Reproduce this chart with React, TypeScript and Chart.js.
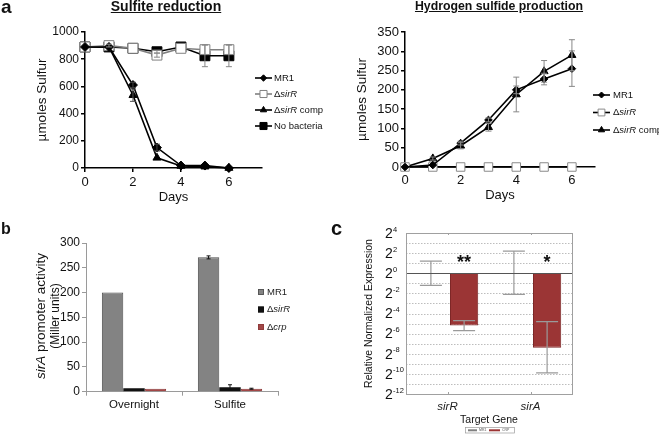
import React, { useEffect, useRef } from 'react';
import { Chart, registerables } from 'chart.js';

Chart.register(...registerables);

const FONT = "Arial, 'Liberation Sans', Helvetica, sans-serif";

// ---------- Panel a (left): Sulfite reduction ----------
const days = [0, 1, 2, 3, 4, 5, 6];
const dayTicks = [0, 2, 4, 6];
const sulfiteMR1 = [890, 890, 610, 150, 18, 18, 0];
const sulfiteMR1Err = [0, 0, 20, 25, 0, 0, 0];
const sulfiteSirR = [890, 900, 880, 830, 880, 870, 870];
const sulfiteSirRErr = [0, 10, 0, 15, 0, 35, 35];
const sulfiteComp = [890, 890, 535, 75, 15, 10, 0];
const sulfiteCompErr = [0, 0, 45, 0, 0, 0, 0];
const sulfiteNoBact = [890, 890, 880, 855, 890, 825, 825];
const sulfiteNoBactErr = [0, 0, 0, 10, 0, 80, 80];
const sulfiteYTicks = [0, 200, 400, 600, 800, 1000];

// ---------- Panel a (right): Hydrogen sulfide production ----------
const h2sMR1 = [0, 5, 62, 122, 200, 228, 255];
const h2sMR1Err = [0, 0, 5, 5, 10, 15, 46];
const h2sSirR = [0, 0, 0, 0, 0, 0, 0];
const h2sComp = [0, 22, 55, 103, 188, 248, 290];
const h2sCompErr = [0, 4, 8, 10, 45, 28, 40];
const h2sYTicks = [0, 50, 100, 150, 200, 250, 300, 350];

// ---------- Panel b: sirA promoter activity ----------
const promoterConditions = ['Overnight', 'Sulfite'];
const promoterMR1 = [200, 271];
const promoterMR1Err = [0, 3];
const promoterSirR = [7, 9];
const promoterSirRErr = [0, 5];
const promoterCrp = [6, 6];
const promoterCrpErr = [0, 1];

// ---------- Panel c: relative normalized expression (log2) ----------
const targetGenes = ['sirR', 'sirA'];
const exprMR1 = [0, 0];
const exprMR1High = [1.2, 2.2];
const exprMR1Low = [-1.2, -2.1];
const exprCRP = [-5.2, -7.4];
const exprCRPHigh = [-4.7, -4.8];
const exprCRPLow = [-5.7, -9.9];
const significance = ['**', '*'];
const exprExponents = [4, 2, 0, -2, -4, -6, -8, -10, -12];

// ---------- helpers ----------
function drawRich(ctx: any, label: string, x: number, y: number, size: number, align: string, color: string) {
  const segs = label.split('_').map((t, i) => ({ text: t, italic: i % 2 === 1 })).filter((s) => s.text);
  const fontFor = (it: boolean) => `${it ? 'italic ' : ''}${size}px ${FONT}`;
  let w = 0;
  segs.forEach((s) => {
    ctx.font = fontFor(s.italic);
    w += ctx.measureText(s.text).width;
  });
  let cx = align === 'center' ? x - w / 2 : x;
  ctx.textBaseline = 'middle';
  ctx.textAlign = 'left';
  ctx.fillStyle = color;
  segs.forEach((s) => {
    ctx.font = fontFor(s.italic);
    ctx.fillText(s.text, cx, y);
    cx += ctx.measureText(s.text).width;
  });
}

function drawMarker(ctx: any, style: string, x: number, y: number, r: number) {
  ctx.beginPath();
  if (style === 'rectRot') {
    ctx.moveTo(x, y - r);
    ctx.lineTo(x + r, y);
    ctx.lineTo(x, y + r);
    ctx.lineTo(x - r, y);
  } else if (style === 'rect') {
    const h = r * Math.SQRT1_2;
    ctx.rect(x - h, y - h, 2 * h, 2 * h);
  } else {
    ctx.moveTo(x, y - r);
    ctx.lineTo(x + 0.866 * r, y + 0.5 * r);
    ctx.lineTo(x - 0.866 * r, y + 0.5 * r);
  }
  ctx.closePath();
  ctx.fill();
  ctx.stroke();
}

const errorBarPlugin = {
  id: 'errorBars',
  afterDatasetsDraw(chart: any) {
    const ctx = chart.ctx;
    const yScale = chart.scales.y;
    chart.data.datasets.forEach((ds: any, di: number) => {
      if (!ds.err && !ds.errLow) return;
      const meta = chart.getDatasetMeta(di);
      meta.data.forEach((el: any, i: number) => {
        const d = ds.data[i];
        const v = typeof d === 'number' ? d : d.y;
        let lo: number;
        let hi: number;
        if (ds.err) {
          const e = ds.err[i];
          if (!e) return;
          lo = v - e;
          hi = v + e;
        } else {
          lo = ds.errLow[i];
          hi = ds.errHigh[i];
        }
        const yl = yScale.getPixelForValue(lo);
        const yh = yScale.getPixelForValue(hi);
        const half = (ds.errCap ?? 6) / 2;
        ctx.save();
        ctx.strokeStyle = ds.errColor ?? '#777';
        ctx.lineWidth = ds.errWidth ?? 1;
        ctx.beginPath();
        ctx.moveTo(el.x, yl);
        ctx.lineTo(el.x, yh);
        ctx.moveTo(el.x - half, yl);
        ctx.lineTo(el.x + half, yl);
        ctx.moveTo(el.x - half, yh);
        ctx.lineTo(el.x + half, yh);
        ctx.stroke();
        ctx.restore();
      });
    });
  },
};

const lineLegendPlugin = {
  id: 'lineLegend',
  afterDraw(chart: any, _args: any, opts: any) {
    if (!opts || opts.x === undefined) return;
    const ctx = chart.ctx;
    chart.data.datasets.forEach((ds: any, i: number) => {
      const y = opts.y + i * opts.dy;
      ctx.save();
      ctx.strokeStyle = ds.legendLine ?? ds.borderColor;
      ctx.lineWidth = ds.borderWidth;
      ctx.beginPath();
      ctx.moveTo(opts.x, y);
      ctx.lineTo(opts.x + opts.lineLen, y);
      ctx.stroke();
      ctx.fillStyle = ds.pointBackgroundColor;
      ctx.strokeStyle = ds.pointBorderColor;
      ctx.lineWidth = 1;
      drawMarker(ctx, ds.pointStyle, opts.x + opts.lineLen / 2, y, ds.legendRadius);
      drawRich(ctx, ds.label, opts.x + opts.lineLen + opts.gap, y, opts.size, 'left', '#111');
      ctx.restore();
    });
  },
};

function lineDataset(label: string, values: number[], errs: number[], st: any) {
  return {
    label,
    data: days.map((d, i) => ({ x: d, y: values[i] })),
    err: errs,
    errColor: st.errColor ?? '#777',
    errCap: st.errCap ?? 6,
    borderColor: st.line,
    legendLine: st.legendLine,
    borderWidth: 1.6,
    pointStyle: st.shape,
    pointRadius: st.r,
    legendRadius: st.lr,
    pointBackgroundColor: st.fill,
    pointBorderColor: st.stroke,
    pointBorderWidth: 1,
    tension: 0,
    clip: false,
  };
}

function lineOptions(p: any) {
  const axisFont = { family: FONT, size: p.yFont };
  return {
    responsive: false,
    animation: false,
    events: [],
    layout: { padding: { top: p.top, right: p.right, left: 0, bottom: 0 } },
    plugins: {
      legend: { display: false },
      tooltip: { enabled: false },
      lineLegend: p.legend,
    },
    scales: {
      x: {
        type: 'linear',
        min: 0,
        max: p.xMax,
        afterBuildTicks: (s: any) => {
          s.ticks = dayTicks.map((v) => ({ value: v }));
        },
        afterFit: (s: any) => {
          s.height = p.xHeight;
        },
        grid: { drawOnChartArea: false, drawTicks: true, tickLength: 4, color: '#000', lineWidth: 1.5 },
        border: { color: '#000', width: 1.5 },
        ticks: { font: { family: FONT, size: p.xFont }, color: '#111', padding: p.xPad, maxRotation: 0, callback: (v: any) => String(v) },
        title: {
          display: true,
          text: 'Days',
          font: { family: FONT, size: 13 },
          color: '#111',
          padding: { top: 0, bottom: p.xTitlePad },
        },
      },
      y: {
        type: 'linear',
        min: 0,
        max: p.yMax,
        afterBuildTicks: (s: any) => {
          s.ticks = p.yTicks.map((v: number) => ({ value: v }));
        },
        afterFit: (s: any) => {
          s.width = p.yWidth;
        },
        grid: { drawOnChartArea: false, drawTicks: true, tickLength: 4, color: '#000', lineWidth: 1.5 },
        border: { color: '#000', width: 1.5 },
        ticks: { font: axisFont, color: '#111', padding: 2, callback: (v: any) => String(v) },
        title: {
          display: true,
          text: 'µmoles Sulfur',
          font: { family: FONT, size: 13.5 },
          color: '#111',
          padding: { top: p.yTitlePad, bottom: 0 },
        },
      },
    },
  };
}

function buildSulfite(): any {
  return {
    type: 'line',
    data: {
      datasets: [
        lineDataset('MR1', sulfiteMR1, sulfiteMR1Err, { line: '#000', shape: 'rectRot', r: 4.5, lr: 3.2, fill: '#000', stroke: '#000', errColor: '#444' }),
        lineDataset('Δ_sirR_', sulfiteSirR, sulfiteSirRErr, { line: '#808080', shape: 'rect', r: 7, lr: 5, fill: '#fff', stroke: '#808080', errColor: '#888' }),
        lineDataset('Δ_sirR_ comp', sulfiteComp, sulfiteCompErr, { line: '#000', shape: 'triangle', r: 4.6, lr: 3.6, fill: '#000', stroke: '#000', errColor: '#555' }),
        lineDataset('No bacteria', sulfiteNoBact, sulfiteNoBactErr, { line: '#000', shape: 'rect', r: 7, lr: 5, fill: '#000', stroke: '#000', errColor: '#888' }),
      ],
    },
    options: lineOptions({
      top: 32,
      right: 68,
      xMax: 7.38,
      yMax: 1000,
      yTicks: sulfiteYTicks,
      xHeight: 47,
      yWidth: 85,
      yFont: 12,
      xFont: 13,
      xPad: 3,
      xTitlePad: 10.2,
      yTitlePad: 34,
      legend: { x: 255, y: 78, dy: 16, lineLen: 17, gap: 2, size: 9.5 },
    }),
    plugins: [errorBarPlugin, lineLegendPlugin],
  };
}

function buildH2S(): any {
  return {
    type: 'line',
    data: {
      datasets: [
        lineDataset('MR1', h2sMR1, h2sMR1Err, { line: '#000', shape: 'rectRot', r: 3.8, lr: 3, fill: '#000', stroke: '#000', errColor: '#888' }),
        lineDataset('Δ_sirR_', h2sSirR, h2sSirR.map(() => 0), { line: '#000', shape: 'rect', r: 6, lr: 4.8, fill: '#fff', stroke: '#8a8a8a' }),
        lineDataset('Δ_sirR_ comp', h2sComp, h2sCompErr, { line: '#000', shape: 'triangle', r: 4.6, lr: 3.6, fill: '#000', stroke: '#000', errColor: '#888' }),
      ],
    },
    options: lineOptions({
      top: 32,
      right: 64,
      xMax: 6.83,
      yMax: 350,
      yTicks: h2sYTicks,
      xHeight: 48,
      yWidth: 75,
      yFont: 13,
      xFont: 13,
      xPad: 2,
      xTitlePad: 12.2,
      yTitlePad: 24,
      legend: { x: 263, y: 95, dy: 17.5, lineLen: 17, gap: 3, size: 9.5 },
    }),
    plugins: [errorBarPlugin, lineLegendPlugin],
  };
}

const promoterExtrasPlugin = {
  id: 'promoterExtras',
  afterDraw(chart: any) {
    const ctx = chart.ctx;
    // y axis title (two lines, rotated)
    ctx.save();
    ctx.translate(41, 101);
    ctx.rotate(-Math.PI / 2);
    drawRich(ctx, '_sirA_ promoter activity', 0, 0, 13.5, 'center', '#111');
    ctx.restore();
    ctx.save();
    ctx.translate(56, 101);
    ctx.rotate(-Math.PI / 2);
    drawRich(ctx, '(Miller units)', 0, 0, 12, 'center', '#111');
    ctx.restore();
    // legend
    chart.data.datasets.forEach((ds: any, i: number) => {
      const y = 77 + i * 17.5;
      ctx.save();
      ctx.fillStyle = ds.backgroundColor;
      ctx.fillRect(258, y - 3, 6, 6);
      ctx.strokeStyle = ds.borderColor;
      ctx.lineWidth = 0.8;
      ctx.strokeRect(258.5, y - 2.5, 5, 5);
      drawRich(ctx, ds.label, 267, y, 9.5, 'left', '#222');
      ctx.restore();
    });
  },
};

function buildPromoter(): any {
  const common = { categoryPercentage: 0.67, barPercentage: 1, errColor: '#111', errCap: 4, errWidth: 1 };
  return {
    type: 'bar',
    data: {
      labels: promoterConditions,
      datasets: [
        { label: 'MR1', data: promoterMR1, err: promoterMR1Err, backgroundColor: '#838383', borderColor: '#4d4d4d', borderWidth: 1, ...common },
        { label: 'Δ_sirR_', data: promoterSirR, err: promoterSirRErr, backgroundColor: '#111111', borderColor: '#111111', borderWidth: 0, ...common },
        { label: 'Δ_crp_', data: promoterCrp, err: promoterCrpErr, backgroundColor: '#a24747', borderColor: '#8c3838', borderWidth: 1, ...common },
      ],
    },
    options: {
      responsive: false,
      animation: false,
      events: [],
      layout: { padding: { top: 28, right: 52, left: 0, bottom: 0 } },
      plugins: { legend: { display: false }, tooltip: { enabled: false } },
      scales: {
        x: {
          afterFit: (s: any) => {
            s.height = 43.3;
          },
          grid: { display: true, drawOnChartArea: false, drawTicks: true, tickLength: 4, color: '#9a9a9a', offset: true },
          border: { color: '#9a9a9a', width: 1 },
          ticks: { font: { family: FONT, size: 11.5 }, color: '#111', padding: 2 },
        },
        y: {
          min: 0,
          max: 300,
          ticks: { stepSize: 50, font: { family: FONT, size: 12 }, color: '#111', padding: 2 },
          afterFit: (s: any) => {
            s.width = 86;
          },
          grid: { drawOnChartArea: false, drawTicks: true, tickLength: 4, color: '#9a9a9a' },
          border: { color: '#9a9a9a', width: 1 },
        },
      },
    },
    plugins: [errorBarPlugin, promoterExtrasPlugin],
  };
}

const exprExtrasPlugin = {
  id: 'exprExtras',
  beforeDatasetsDraw(chart: any) {
    const ctx = chart.ctx;
    const y = chart.scales.y;
    const a = chart.chartArea;
    ctx.save();
    for (let v = -11; v <= 3; v++) {
      if (v === 0) continue;
      const py = Math.round(y.getPixelForValue(v)) + 0.5;
      ctx.strokeStyle = '#bdbdbd';
      ctx.lineWidth = 1;
      ctx.setLineDash([1.5, 1.5]);
      ctx.beginPath();
      ctx.moveTo(a.left, py);
      ctx.lineTo(a.right, py);
      ctx.stroke();
    }
    ctx.restore();
  },
  afterDraw(chart: any) {
    const ctx = chart.ctx;
    const y = chart.scales.y;
    const a = chart.chartArea;
    ctx.save();
    // zero line
    const p0 = Math.round(y.getPixelForValue(0)) + 0.5;
    ctx.strokeStyle = '#555';
    ctx.lineWidth = 1;
    ctx.beginPath();
    ctx.moveTo(a.left, p0);
    ctx.lineTo(a.right, p0);
    ctx.stroke();
    // plot frame
    ctx.strokeStyle = '#a0a0a0';
    ctx.strokeRect(Math.round(a.left) + 0.5, Math.round(a.top) + 0.5, Math.round(a.right - a.left), Math.round(a.bottom - a.top));
    // small category ticks top and bottom
    const xs = chart.scales.x;
    targetGenes.forEach((_g, i) => {
      const px = Math.round(xs.getPixelForValue(i)) + 0.5;
      ctx.beginPath();
      ctx.moveTo(px, a.top);
      ctx.lineTo(px, a.top + 2);
      ctx.moveTo(px, a.bottom);
      ctx.lineTo(px, a.bottom - 2);
      ctx.stroke();
    });
    // y tick labels 2^n
    ctx.fillStyle = '#111';
    ctx.textAlign = 'left';
    exprExponents.forEach((e) => {
      const py = y.getPixelForValue(e);
      ctx.font = `14px ${FONT}`;
      ctx.textBaseline = 'middle';
      ctx.fillText('2', 55, py + 1);
      const w2 = ctx.measureText('2').width;
      ctx.font = `7.5px ${FONT}`;
      ctx.fillText(String(e), 55 + w2 + 0.3, py - 3.5);
    });
    // significance marks above CRP bars
    const crp = chart.getDatasetMeta(1);
    ctx.font = `bold 18px ${FONT}`;
    ctx.textAlign = 'center';
    ctx.textBaseline = 'alphabetic';
    crp.data.forEach((el: any, i: number) => {
      ctx.fillText(significance[i], el.x, 53);
    });
    // tiny legend
    ctx.strokeStyle = '#9a9a9a';
    ctx.lineWidth = 0.7;
    ctx.strokeRect(135.5, 212.5, 49, 5.5);
    const ds = chart.data.datasets;
    ctx.font = `3.5px ${FONT}`;
    ctx.textBaseline = 'middle';
    ctx.textAlign = 'left';
    ctx.fillStyle = ds[0].backgroundColor;
    ctx.fillRect(138, 214.3, 9, 2);
    ctx.fillStyle = '#555';
    ctx.fillText(ds[0].label, 149, 215.3);
    ctx.fillStyle = ds[1].backgroundColor;
    ctx.fillRect(159, 214.3, 11, 2);
    ctx.fillStyle = '#555';
    ctx.fillText(ds[1].label, 172, 215.3);
    ctx.restore();
  },
};

function buildExpression(): any {
  const common = { categoryPercentage: 0.8, barPercentage: 0.85, errColor: '#9a9a9a', errCap: 22, errWidth: 1.2 };
  return {
    type: 'bar',
    data: {
      labels: targetGenes,
      datasets: [
        { label: 'MR1', data: exprMR1, errLow: exprMR1Low, errHigh: exprMR1High, backgroundColor: '#808080', borderWidth: 0, ...common },
        { label: 'CRP', data: exprCRP, errLow: exprCRPLow, errHigh: exprCRPHigh, backgroundColor: '#9b3535', borderColor: '#7e2828', borderWidth: 1, ...common },
      ],
    },
    options: {
      responsive: false,
      animation: false,
      events: [],
      layout: { padding: { top: 18, right: 87, left: 0, bottom: 0 } },
      plugins: { legend: { display: false }, tooltip: { enabled: false } },
      scales: {
        x: {
          afterFit: (s: any) => {
            s.height = 41;
          },
          grid: { display: false, drawTicks: false },
          border: { display: false },
          ticks: { font: { family: FONT, size: 11.5, style: 'italic' }, color: '#222', padding: 6 },
          title: {
            display: true,
            text: 'Target Gene',
            font: { family: FONT, size: 10.5 },
            color: '#111',
            padding: { top: 0, bottom: 8.7 },
          },
        },
        y: {
          min: -12,
          max: 4,
          ticks: { display: false, stepSize: 1 },
          afterFit: (s: any) => {
            s.width = 76;
          },
          grid: { display: false, drawTicks: false },
          border: { display: false },
          title: {
            display: true,
            text: 'Relative Normalized Expression',
            font: { family: FONT, size: 10.5 },
            color: '#111',
            padding: { top: 32.5, bottom: 0 },
          },
        },
      },
    },
    plugins: [exprExtrasPlugin, errorBarPlugin],
  };
}

function ChartCanvas(props: { left: number; top: number; width: number; height: number; build: () => any }) {
  const ref = useRef<HTMLCanvasElement>(null);
  const { left, top, width, height, build } = props;
  useEffect(() => {
    const chart = new Chart(ref.current as HTMLCanvasElement, build());
    return () => chart.destroy();
  }, [build]);
  return (
    <canvas
      ref={ref}
      width={width}
      height={height}
      style={{ position: 'absolute', left, top, width, height, display: 'block' }}
    />
  );
}

const letterStyle: any = { position: 'absolute', fontFamily: FONT, fontWeight: 'bold', color: '#111', lineHeight: 1, margin: 0 };
const titleStyle: any = {
  position: 'absolute',
  fontFamily: FONT,
  fontWeight: 'bold',
  color: '#111',
  textAlign: 'center',
  textDecoration: 'underline',
  lineHeight: 1,
  whiteSpace: 'nowrap',
};

export default function App() {
  return (
    <div style={{ position: 'absolute', left: 0, top: 0, width: 659, height: 435, background: '#fff', overflow: 'hidden' }}>
      <ChartCanvas left={0} top={0} width={330} height={215} build={buildSulfite} />
      <ChartCanvas left={330} top={0} width={329} height={215} build={buildH2S} />
      <ChartCanvas left={0} top={215} width={330} height={220} build={buildPromoter} />
      <ChartCanvas left={330} top={215} width={329} height={220} build={buildExpression} />
      <div style={{ ...letterStyle, left: 1, top: -3, fontSize: 19 }}>a</div>
      <div style={{ ...letterStyle, left: 1, top: 221, fontSize: 16 }}>b</div>
      <div style={{ ...letterStyle, left: 331, top: 218, fontSize: 20 }}>c</div>
      <div style={{ ...titleStyle, left: 66, width: 200, top: -1, fontSize: 14 }}>Sulfite reduction</div>
      <div style={{ ...titleStyle, left: 399, width: 200, top: 0, fontSize: 12.3 }}>Hydrogen sulfide production</div>
    </div>
  );
}
